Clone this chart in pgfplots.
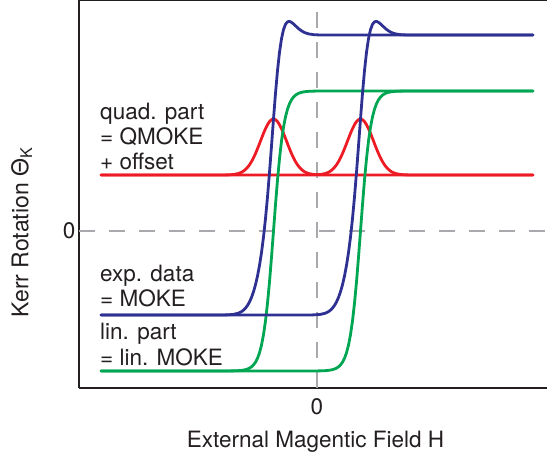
\documentclass[border=0pt]{standalone}
\usepackage{fontspec}
\setmainfont{TeX Gyre Heros}
\usepackage{pgfplots}
\pgfplotsset{compat=1.18}
\usepackage{pgfplotstable}
\definecolor{cblue}{HTML}{2E3192}
\definecolor{cgreen}{HTML}{00A651}
\definecolor{cred}{HTML}{ED1C24}
\definecolor{ctext}{HTML}{231F20}
\definecolor{cgrid}{HTML}{A7A9AC}

% ascending branch (sweep up)
\pgfplotstableread{
X G R B
-216 -140 56 -84
-16.5 -140 56 -84
-6.5 -140 56.03 -83.97
-1.5 -139.95 56.14 -83.81
3.5 -139.86 56.49 -83.37
8.5 -139.64 57.49 -82.15
11.5 -139.37 58.71 -80.66
13.5 -139.08 59.91 -79.17
15.5 -138.65 61.51 -77.14
17.5 -138.03 63.58 -74.45
19.5 -137.13 66.19 -70.94
21.5 -135.83 69.38 -66.45
23.5 -133.93 73.15 -60.78
25.5 -131.21 77.47 -53.74
27.5 -127.31 82.26 -45.05
29.5 -121.81 87.36 -34.45
31.5 -114.15 92.57 -21.58
33.5 -103.72 97.66 -6.06
35.5 -89.91 102.34 12.43
37.5 -72.30 106.34 34.04
39.5 -50.90 109.41 58.51
41.5 -26.35 111.34 84.99
43.5 0 112 112
45.5 26.35 111.34 137.69
47.5 50.90 109.41 160.31
49.5 72.30 106.34 178.64
51.5 89.91 102.34 192.25
53.5 103.72 97.66 201.38
55.5 114.15 92.57 206.72
57.5 121.81 87.36 209.17
59.5 127.31 82.26 209.57
61.5 131.21 77.47 208.68
63.5 133.93 73.15 207.08
65.5 135.83 69.38 205.21
67.5 137.13 66.19 203.32
69.5 138.03 63.58 201.61
71.5 138.65 61.51 200.16
73.5 139.08 59.91 198.99
75.5 139.37 58.71 198.08
78.5 139.64 57.49 197.13
83.5 139.86 56.49 196.35
88.5 139.95 56.14 196.09
93.5 140 56.03 196.03
103.5 140 56 196
216 140 56 196
}\asc

% descending branch (sweep down)
\pgfplotstableread{
X G R B
-216 -140 56 -84
-103.5 -140 56 -84
-93.5 -140 56.03 -83.97
-88.5 -139.95 56.14 -83.81
-83.5 -139.86 56.49 -83.37
-78.5 -139.64 57.49 -82.15
-75.5 -139.37 58.71 -80.66
-73.5 -139.08 59.91 -79.17
-71.5 -138.65 61.51 -77.14
-69.5 -138.03 63.58 -74.45
-67.5 -137.13 66.19 -70.94
-65.5 -135.83 69.38 -66.45
-63.5 -133.93 73.15 -60.78
-61.5 -131.21 77.47 -53.74
-59.5 -127.31 82.26 -45.05
-57.5 -121.81 87.36 -34.45
-55.5 -114.15 92.57 -21.58
-53.5 -103.72 97.66 -6.06
-51.5 -89.91 102.34 12.43
-49.5 -72.30 106.34 34.04
-47.5 -50.90 109.41 58.51
-45.5 -26.35 111.34 84.99
-43.5 0 112 112
-41.5 26.35 111.34 137.69
-39.5 50.90 109.41 160.31
-37.5 72.30 106.34 178.64
-35.5 89.91 102.34 192.25
-33.5 103.72 97.66 201.38
-31.5 114.15 92.57 206.72
-29.5 121.81 87.36 209.17
-27.5 127.31 82.26 209.57
-25.5 131.21 77.47 208.68
-23.5 133.93 73.15 207.08
-21.5 135.83 69.38 205.21
-19.5 137.13 66.19 203.32
-17.5 138.03 63.58 201.61
-15.5 138.65 61.51 200.16
-13.5 139.08 59.91 198.99
-11.5 139.37 58.71 198.08
-8.5 139.64 57.49 197.13
-3.5 139.86 56.49 196.35
1.5 139.95 56.14 196.09
6.5 140 56.03 196.03
16.5 140 56 196
216 140 56 196
}\desc

\newcommand{\bigfont}{\fontsize{22.5}{27}\selectfont}

\begin{document}
\begin{tikzpicture}
\begin{axis}[
  scale only axis, width=468pt, height=388pt,
  xmin=-238, xmax=230, ymin=-157, ymax=231,
  axis x line*=box, axis y line*=left,
  axis line style={-, draw=ctext, line width=1.6pt},
  xtick={0}, ytick={0},
  major tick length=0pt,
  tick style={draw=none},
  /pgf/number format/assume math mode=true,
  tick label style={font=\bigfont, text=ctext},
  xticklabel style={yshift=-7pt},
  xlabel={External Magentic Field H},
  ylabel={Kerr Rotation Θ\textsubscript{K}},
  label style={font=\bigfont, text=ctext},
  xlabel style={at={(axis description cs:0.5053,-0.1546)}, anchor=base},
  ylabel style={at={(axis description cs:-0.108,0.4008)}, anchor=base, font=\fontsize{23}{27}\selectfont},
  clip=false,
  every axis plot/.append style={line width=2.8pt, line join=round, line cap=round},
]
\addplot[cgrid, line width=1.2pt, line cap=butt, dash pattern=on 16pt off 14pt] coordinates {(0,-157) (0,231)};
\addplot[cgrid, line width=1.2pt, line cap=butt, dash pattern=on 16pt off 14pt] coordinates {(-238,0) (230,0)};

\addplot[cred] table[x=X,y=R] {\asc};
\addplot[cred] table[x=X,y=R] {\desc};
\addplot[cgreen] table[x=X,y=G] {\asc};
\addplot[cgreen] table[x=X,y=G] {\desc};
\addplot[cblue] table[x=X,y=B] {\asc};
\addplot[cblue] table[x=X,y=B] {\desc};

\begin{scope}[every node/.style={anchor=base west, inner sep=0pt, font=\bigfont, text=ctext}]
\node at (axis cs:-217,111.7) {quad. part};
\node at (axis cs:-217,86.5) {= QMOKE};
\node at (axis cs:-217,61) {+ offset};
\node at (axis cs:-217,-50.7) {exp. data};
\node at (axis cs:-217,-76) {= MOKE};
\node at (axis cs:-217,-108.5) {lin. part};
\node at (axis cs:-217,-134.7) {= lin. MOKE};
\end{scope}
\end{axis}
\pgfresetboundingbox
\path[use as bounding box] (current axis.south west) ++(-79pt,-69pt) rectangle (current axis.north east);
\end{tikzpicture}
\end{document}
